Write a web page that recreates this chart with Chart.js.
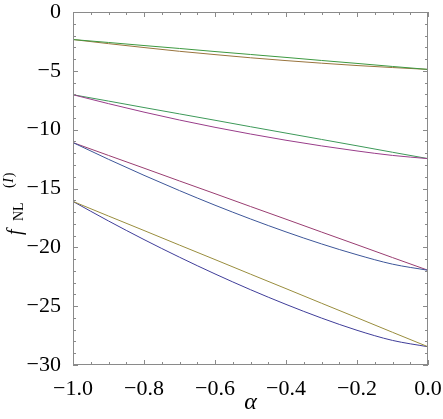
<!DOCTYPE html>
<html>
<head>
<meta charset="utf-8">
<script src="https://cdn.jsdelivr.net/npm/chart.js@4"></script>
<style>
  html, body { margin: 0; padding: 0; background: #fff; }
  #wrap { width: 443px; height: 419px; }
</style>
</head>
<body>
<div id="wrap"><canvas id="chart" width="443" height="419"></canvas></div>
<script>
// alpha values (x axis)
const alpha = [-1.0, -0.9, -0.8, -0.7, -0.6, -0.5, -0.4, -0.3, -0.2, -0.1, 0.0];

// f_NL curves, in Mathematica's plot order
const fBlueLow   = [-16.1, -17.76, -19.34, -20.84, -22.26, -23.6, -24.85, -26.01, -27.05, -27.91, -28.45];
const fMagenta   = [-11.1, -12.19, -13.27, -14.36, -15.44, -16.53, -17.61, -18.7, -19.78, -20.87, -21.95];
const fOlive     = [-16.1, -17.34, -18.57, -19.81, -21.04, -22.28, -23.51, -24.75, -25.98, -27.22, -28.45];
const fGreenMid  = [-7.03, -7.57, -8.12, -8.66, -9.2, -9.75, -10.29, -10.83, -11.37, -11.92, -12.46];
const fBlueMid   = [-11.1, -12.52, -13.88, -15.18, -16.42, -17.59, -18.69, -19.71, -20.63, -21.43, -21.95];
const fPurple    = [-7.03, -7.79, -8.51, -9.18, -9.8, -10.37, -10.9, -11.38, -11.81, -12.19, -12.46];
const fOrange    = [-2.34, -2.69, -3.02, -3.34, -3.62, -3.89, -4.13, -4.35, -4.55, -4.72, -4.88];
const fGreenTop  = [-2.34, -2.59, -2.85, -3.1, -3.36, -3.61, -3.86, -4.12, -4.37, -4.63, -4.88];

const seriesList = [fBlueLow, fMagenta, fOlive, fGreenMid, fBlueMid, fPurple, fOrange, fGreenTop];
const seriesColors = [
    'rgb(63,61,153)', 'rgb(153,61,113)', 'rgb(153,141,61)', 'rgb(61,153,89)',
    'rgb(61,86,153)', 'rgb(153,61,138)', 'rgb(153,116,61)', 'rgb(61,153,64)'
];

// axis ticks
const xTicks = [-1.0, -0.8, -0.6, -0.4, -0.2, 0.0];
const yTicks = [-30, -25, -20, -15, -10, -5, 0];

const SERIF = '"Liberation Serif", "Times New Roman", serif';
const FRAME = '#8a8a8a';

const ToLabel = function (v, digits) {
    const s = Math.abs(v).toFixed(digits);
    return v < -1e-9 ? '\u2212' + s : s;
}

// frame + inward ticks on all four sides, Mathematica style
const frameTicks = {
    id: 'frameTicks',
    afterDatasetsDraw(chart) {
        const {ctx, chartArea: a, scales: {x, y}} = chart;
        ctx.save();
        ctx.strokeStyle = FRAME;
        ctx.lineWidth = 1;
        ctx.strokeRect(a.left + 0.5, a.top + 0.5, a.right - a.left - 1, a.bottom - a.top - 1);
        ctx.beginPath();
        for (var i = 0; i <= 20; i++) {
            const v = -1 + i * 0.05;
            const len = (i % 4 === 0) ? 5 : 3;
            const px = Math.round(x.getPixelForValue(v)) + 0.5;
            ctx.moveTo(px, a.bottom); ctx.lineTo(px, a.bottom - len);
            ctx.moveTo(px, a.top); ctx.lineTo(px, a.top + len);
        }
        for (var j = 0; j <= 30; j++) {
            const v = -30 + j;
            const len = (j % 5 === 0) ? 5 : 3;
            const py = Math.round(y.getPixelForValue(v)) + 0.5;
            ctx.moveTo(a.left, py); ctx.lineTo(a.left + len, py);
            ctx.moveTo(a.right, py); ctx.lineTo(a.right - len, py);
        }
        ctx.stroke();
        ctx.restore();
    }
};

// rotated y title: f_NL^(I)
const yTitle = {
    id: 'yTitle',
    afterDraw(chart) {
        const ctx = chart.ctx;
        ctx.save();
        ctx.translate(21, 235);
        ctx.rotate(-Math.PI / 2);
        ctx.fillStyle = '#000';
        ctx.textBaseline = 'alphabetic';
        ctx.font = 'italic 20px ' + SERIF;
        ctx.fillText('f', 0, 0);
        ctx.font = '14px ' + SERIF;
        ctx.fillText('NL', 14, 1.5);
        ctx.fillText('(', 47, -8);
        const w1 = ctx.measureText('(').width;
        ctx.font = 'italic 14px ' + SERIF;
        ctx.fillText('I', 47 + w1 + 0.5, -8);
        const w2 = ctx.measureText('I').width;
        ctx.font = '14px ' + SERIF;
        ctx.fillText(')', 47 + w1 + w2 + 1.5, -8);
        ctx.restore();
    }
};

function Main() {
    new Chart(document.getElementById('chart'), {
        type: 'line',
        data: {
            datasets: seriesList.map((s, i) => ({
                data: alpha.map((a, k) => ({x: a, y: s[k]})),
                borderColor: seriesColors[i],
                backgroundColor: seriesColors[i],
                borderWidth: 1,
                pointRadius: 0,
                fill: false,
                cubicInterpolationMode: 'monotone',
                order: seriesList.length - i
            }))
        },
        options: {
            responsive: false,
            devicePixelRatio: 1,
            animation: false,
            layout: { padding: { top: 12, right: 15, left: 0, bottom: 0 } },
            plugins: { legend: { display: false }, tooltip: { enabled: false } },
            scales: {
                x: {
                    type: 'linear',
                    min: -1, max: 0,
                    afterBuildTicks: (scale) => { scale.ticks = xTicks.map(v => ({value: v})); },
                    ticks: {
                        callback: (v) => ToLabel(v, 1),
                        color: '#000',
                        font: { family: SERIF, size: 22 },
                        padding: 3,
                        maxRotation: 0,
                        autoSkip: false
                    },
                    grid: { display: false },
                    border: { display: false },
                    title: {
                        display: true,
                        text: 'α',
                        color: '#000',
                        font: { family: SERIF, size: 24, style: 'italic' },
                        padding: { top: 0, bottom: 2 }
                    },
                    afterFit: (scale) => {
                        scale.height = 54;
                        scale.paddingLeft = 0;
                        scale.paddingRight = 0;
                    }
                },
                y: {
                    type: 'linear',
                    min: -30, max: 0,
                    afterBuildTicks: (scale) => { scale.ticks = yTicks.map(v => ({value: v})); },
                    ticks: {
                        callback: (v) => ToLabel(v, 0),
                        color: '#000',
                        font: { family: SERIF, size: 22 },
                        padding: 4,
                        autoSkip: false
                    },
                    grid: { display: false },
                    border: { display: false },
                    afterFit: (scale) => {
                        scale.width = 73;
                        scale.paddingTop = 0;
                        scale.paddingBottom = 0;
                    }
                }
            }
        },
        plugins: [frameTicks, yTitle]
    });
}

Promise.all([
    document.fonts.load('22px "Liberation Serif"'),
    document.fonts.load('italic 22px "Liberation Serif"')
]).then(Main, Main);
</script>
</body>
</html>
